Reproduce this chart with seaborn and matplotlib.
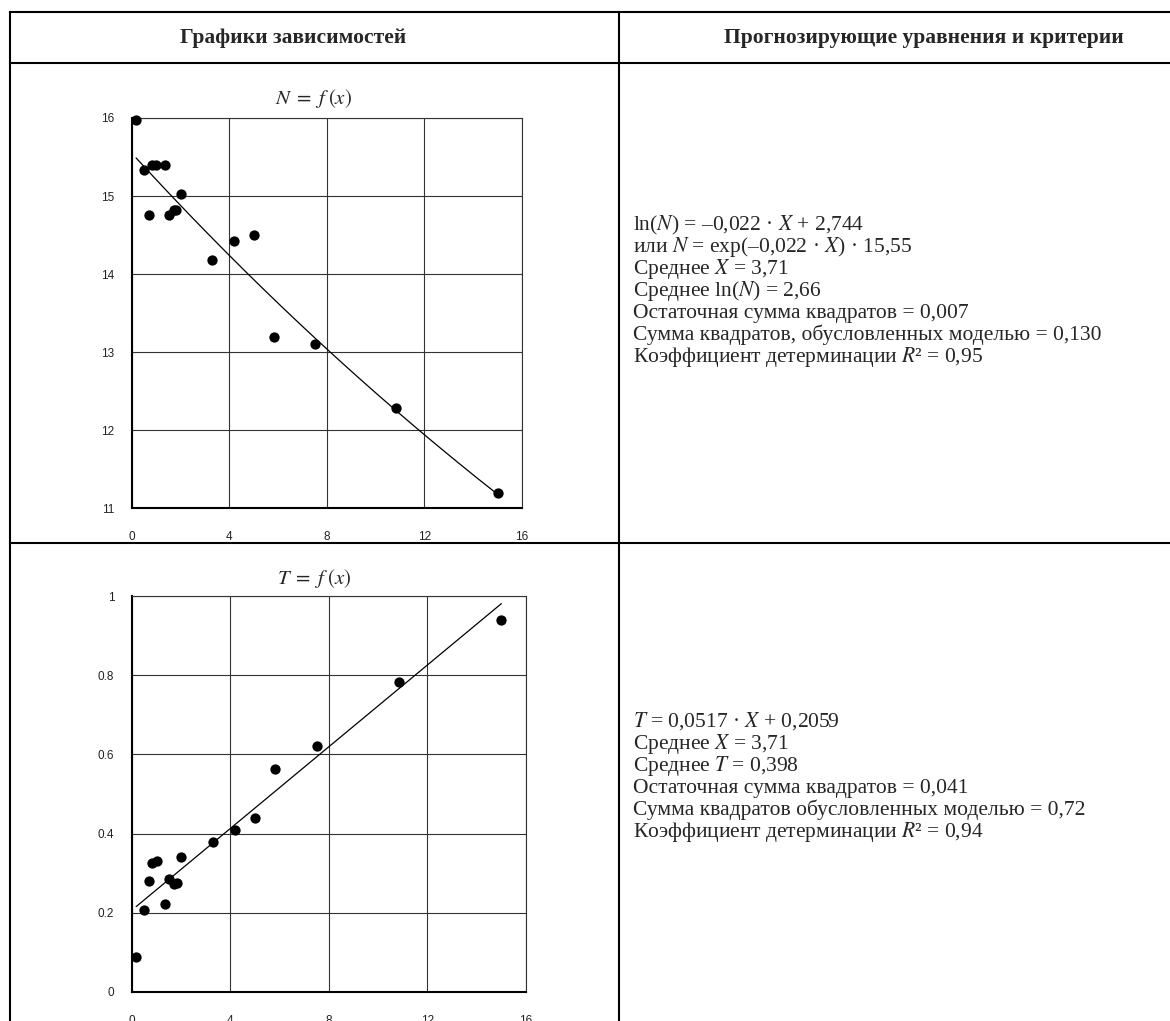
import numpy as np
import pandas as pd
import matplotlib
matplotlib.use("Agg")
import matplotlib.pyplot as plt
from matplotlib.lines import Line2D
from matplotlib.ticker import MultipleLocator, FuncFormatter
import seaborn as sns

# ---- data -------------------------------------------------------------
x_values = [0.18, 0.50, 0.71, 0.82, 1.01, 1.35, 1.52, 1.72, 1.83, 2.01,
            3.30, 4.18, 5.00, 5.83, 7.51, 10.83, 15.00]
n_values = [15.97, 15.33, 14.76, 15.40, 15.40, 15.40, 14.76, 14.82, 14.82, 15.02,
            14.18, 14.43, 14.50, 13.20, 13.10, 12.29, 11.20]
t_values = [0.087, 0.206, 0.280, 0.325, 0.331, 0.221, 0.285, 0.272, 0.275, 0.341,
            0.379, 0.410, 0.440, 0.563, 0.622, 0.782, 0.939]

# model coefficients
n_slope, n_scale = -0.022, 15.55
t_slope, t_intercept = 0.0517, 0.2059

header_left = "Графики зависимостей"
header_right = "Прогнозирующие уравнения и критерии"
title_n = r"$N\;=\;f\;(x)$"
title_t = r"$T\;=\;f\;(x)$"
lines_n = [
    "ln($N$) = –0,022 · $X$ + 2,744",
    "или $N$ = exp(–0,022 · $X$) · 15,55",
    "Среднее $X$ = 3,71",
    "Среднее ln($N$) = 2,66",
    "Остаточная сумма квадратов = 0,007",
    "Сумма квадратов, обусловленных моделью = 0,130",
    "Коэффициент детерминации $R$² = 0,95",
]
lines_t = [
    "$T$ = 0,0517 · $X$ + 0,2059",
    "Среднее $X$ = 3,71",
    "Среднее $T$ = 0,398",
    "Остаточная сумма квадратов = 0,041",
    "Сумма квадратов обусловленных моделью = 0,72",
    "Коэффициент детерминации $R$² = 0,94",
]

df = pd.DataFrame({"X": x_values, "N": n_values, "T": t_values})
x_fit = np.linspace(min(x_values), max(x_values), 200)
fit = pd.DataFrame({"X": x_fit,
                    "N": n_scale * np.exp(n_slope * x_fit),
                    "T": t_slope * x_fit + t_intercept})

# ---- style ------------------------------------------------------------
sns.set_style("white")
plt.rcParams["font.family"] = ["Liberation Serif", "DejaVu Serif"]
plt.rcParams["mathtext.fontset"] = "stix"

W, H = 1170, 1021
fig = plt.figure(figsize=(W / 100, H / 100), dpi=100)
fig.patch.set_facecolor("white")


def fx(px):
    return px / W


def fy(py):
    return 1 - py / H


def add_axes(left, right, top, bottom):
    return fig.add_axes([fx(left), fy(bottom), (right - left) / W, (bottom - top) / H])


def hline(y, x0, x1):
    fig.add_artist(Line2D([fx(x0), fx(x1)], [fy(y), fy(y)], transform=fig.transFigure,
                          color="black", lw=1.5, solid_capstyle="projecting"))


def vline(x, y0, y1):
    fig.add_artist(Line2D([fx(x), fx(x)], [fy(y0), fy(y1)], transform=fig.transFigure,
                          color="black", lw=1.5, solid_capstyle="projecting"))


# table frame
hline(12, 10, 1175)
hline(63, 10, 1175)
hline(542.5, 10, 1175)
vline(10, 12, 1030)
vline(619, 12, 1030)

fig.text(fx(293), fy(38), header_left, ha="center", va="center",
         fontsize=15.5, fontweight="bold")
fig.text(fx(924), fy(38), header_right, ha="center", va="center",
         fontsize=15.5, fontweight="bold")

grid_color = "#333333"
tick_font = ["Liberation Sans", "DejaVu Sans"]


def style_axes(ax, ylim, ymajor, yminor):
    ax.set_xlim(0, 16)
    ax.set_ylim(*ylim)
    ax.xaxis.set_major_locator(MultipleLocator(4))
    ax.xaxis.set_minor_locator(MultipleLocator(2))
    ax.yaxis.set_major_locator(MultipleLocator(ymajor))
    ax.yaxis.set_minor_locator(MultipleLocator(yminor))
    ax.xaxis.set_major_formatter(FuncFormatter(lambda v, p: f"{v:g}"))
    ax.yaxis.set_major_formatter(FuncFormatter(lambda v, p: f"{round(v, 3):g}"))
    ax.grid(True, which="major", color=grid_color, lw=0.8)
    ax.set_axisbelow(True)
    ax.tick_params(which="major", direction="out", length=8.6, width=0.8,
                   color=grid_color, labelsize=8.5, labelcolor="#222222")
    ax.tick_params(which="minor", direction="out", length=5, width=0.8, color=grid_color)
    ax.tick_params(axis="x", which="major", pad=8)
    ax.tick_params(axis="y", which="major", pad=4)
    for lab in ax.get_xticklabels() + ax.get_yticklabels():
        lab.set_family(tick_font)
    for side in ("top", "right"):
        ax.spines[side].set_color(grid_color)
        ax.spines[side].set_linewidth(0.8)
    for side in ("left", "bottom"):
        ax.spines[side].set_color("black")
        ax.spines[side].set_linewidth(1.5)
    ax.set_xlabel("")
    ax.set_ylabel("")


# N = f(x)
ax1 = add_axes(131.7, 522, 118, 508.3)
sns.scatterplot(data=df, x="X", y="N", ax=ax1, color="black", s=55,
                linewidth=0, zorder=4, clip_on=False)
sns.lineplot(data=fit, x="X", y="N", ax=ax1, color="black", lw=0.9, zorder=3)
style_axes(ax1, (11, 16), 1, 0.5)
fig.text(fx(314), fy(99), title_n, ha="center", va="center", fontsize=15)

# T = f(x)
ax2 = add_axes(131.7, 526, 596.3, 991.7)
sns.scatterplot(data=df, x="X", y="T", ax=ax2, color="black", s=55,
                linewidth=0, zorder=4, clip_on=False)
sns.lineplot(data=fit, x="X", y="T", ax=ax2, color="black", lw=0.9, zorder=3)
style_axes(ax2, (0, 1), 0.2, 0.1)
fig.text(fx(314), fy(578), title_t, ha="center", va="center", fontsize=15)

# equations and criteria
line_step = 22
for i, line in enumerate(lines_n):
    fig.text(fx(633), fy(230 + line_step * i), line, ha="left", va="baseline",
             fontsize=15.5)
for i, line in enumerate(lines_t):
    fig.text(fx(633), fy(727 + line_step * i), line, ha="left", va="baseline",
             fontsize=15.5)

fig.savefig("out.png", dpi=100, facecolor="white")
